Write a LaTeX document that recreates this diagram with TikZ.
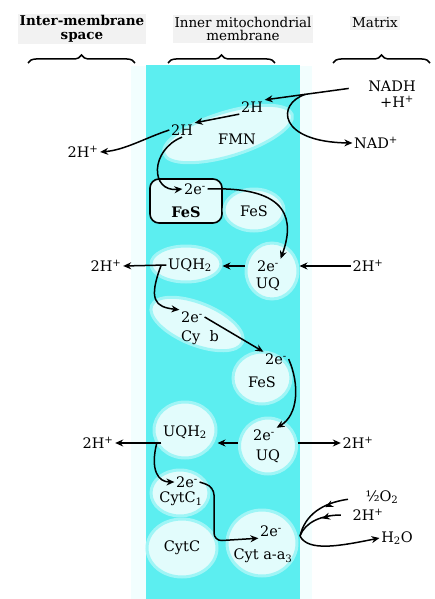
\documentclass[tikz,border=0pt]{standalone}
\usepackage{fontspec}
\setmainfont{DejaVu Serif}
\usetikzlibrary{positioning,calc,arrows.meta,shapes.geometric,decorations.pathreplacing,decorations.markings}
\definecolor{membc}{RGB}{92,238,240}
\definecolor{blobc}{RGB}{226,252,252}
\newcommand{\Hplus}{2H\textsuperscript{+}}
\newcommand{\elec}{2e\textsuperscript{-}}
\tikzset{
chain/.style={
    >={Stealth[length=8pt,width=7pt]},
    x=1pt,
    y=-1pt,
    line width=1.5pt,
    font=\fontsize{14.5}{15}\selectfont
},
blob/.style={
    ellipse,
    fill=blobc,
    draw=blobc!50!membc,
    line width=3pt
},
lbl/.style={
    inner sep=1pt
},
head/.style={
    align=center,
    fill=gray!10,
    inner sep=2pt,
    font=\fontsize{13.5}{13.5}\selectfont
},
headb/.style={
    head,
    font=\bfseries\fontsize{13.5}{13.5}\selectfont
},
flow/.style={
    ->
},
midflow/.style={
    postaction={decorate},
    decoration={markings, mark=at position 0.5 with {\arrow{>}}}
},
cbrace/.style={
    decorate,
    decoration={brace, amplitude=8pt},
    line width=1.5pt
}}

\begin{document}
\begin{tikzpicture}[chain]
\useasboundingbox (0,0) rectangle (435,599);
\fill[membc!8] (131,66) rectangle (312,599);
\fill[membc] (146,65) rectangle (300,599);

\node[headb] (ims) at (82,29) {Inter-membrane\\space};
\node[head]  (imm) at (243,29) {Inner mitochondrial\\membrane};
\node[head]  (mtx) at (375,23) {Matrix};
\draw[cbrace] (28,63) -- (135,63);
\draw[cbrace] (168,63) -- (275,63);
\draw[cbrace] (333,63) -- (430,63);

\node[blob, minimum width=134, minimum height=44, rotate=17] (fmnb) at (228,134) {};
\node[blob, rectangle, rounded corners=9pt, draw=black, line width=1.6pt, minimum width=72, minimum height=44] (fesbox) at (186,201) {};
\node[blob, minimum width=60, minimum height=42] (fesb1) at (254,210) {};
\node[blob, minimum width=70, minimum height=36] (uqhb1) at (186,264) {};
\node[blob, minimum width=52, minimum height=56] (uqb1) at (272,271) {};
\node[blob, minimum width=98, minimum height=42, rotate=-22] (cybb) at (197,324) {};
\node[blob, minimum width=58, minimum height=52] (fesb2) at (262,378) {};
\node[blob, minimum width=62, minimum height=56] (uqhb2) at (185,430) {};
\node[blob, minimum width=57, minimum height=56] (uqb2) at (268,446) {};
\node[blob, minimum width=58, minimum height=46] (cc1b) at (180,493) {};
\node[blob, minimum width=70, minimum height=58] (ccb) at (182,548) {};
\node[blob, minimum width=70, minimum height=66] (caab) at (262,543) {};

\node[lbl] (nadh) at (392,86) {NADH};
\node[lbl] (hplus) [below=1pt of nadh.south, anchor=north, xshift=5pt] {+H\textsuperscript{+}};
\node[lbl] (nad) at (376,143) {NAD\textsuperscript{+}};
\node[lbl] (h2a) at (252,107) {2H};
\node[lbl] (h2b) at (182,130) {2H};
\node[lbl] (fmn) at (237,139) {FMN};
\node[lbl] (hl1) at (83,152) {\Hplus};
\node[lbl] (ea) at (195,189) {\elec};
\node[lbl] (fesa) at (186,212) {\textbf{FeS}};
\node[lbl] (fesb) at (254,211) {FeS};
\node[lbl] (uqha) at (190,265) {UQH\textsubscript{2}};
\node[lbl] (hl2) at (106,266) {\Hplus};
\node[lbl] (eb) at (268,266) {\elec};
\node[lbl] (uqa) at (268,284) {UQ};
\node[lbl] (hr1) at (368,266) {\Hplus};
\node[lbl] (ec) at (192,317) {\elec};
\node[lbl] (cyb) at (200,338) {Cy\ \ b};
\node[lbl] (ed) at (276,359) {\elec};
\node[lbl] (fesc) at (262,382) {FeS};
\node[lbl] (uqhb) at (185,432) {UQH\textsubscript{2}};
\node[lbl] (hl3) at (98,443) {\Hplus};
\node[lbl] (ee) at (264,435) {\elec};
\node[lbl] (uqb) at (268,456) {UQ};
\node[lbl] (hr2) at (358,443) {\Hplus};
\node[lbl] (ef) at (187,482) {\elec};
\node[lbl] (cc1) at (181,499) {CytC\textsubscript{1}};
\node[lbl] (cc) at (182,548) {CytC};
\node[lbl] (eg) at (271,531) {\elec};
\node[lbl] (caa) at (263,556) {Cyt a-a\textsubscript{3}};
\node[lbl] (o2) at (382,497) {½O\textsubscript{2}};
\node[lbl] (hr3) at (368,515) {\Hplus};
\node[lbl] (h2o) at (397,538) {H\textsubscript{2}O};

\coordinate (jn) at ($(nadh.west)!0.6!(h2a.north east)$);
\coordinate (ja) at ($(uqha.west)!0.12!(hl2.east)$);
\coordinate (jb) at ($(uqhb.west |- hl3)!0.1!(hl3.east)$);
\coordinate (jo) at (300,536);

\draw[flow, shorten <=18pt] (nadh.west) -- (h2a.north east);
\draw[flow] (jn) .. controls (276,104) and (278,142) .. (nad.west);
\draw[flow] (h2a.south west) -- (h2b.north east);
\draw[flow] (h2b.west) .. controls (145,138) and (125,150) .. (hl1.east);
\draw[flow] (h2b.south) .. controls (150,150) and (150,192) .. (ea.west);
\draw[flow] (ea.east) .. controls (292,186) and (294,222) .. (eb.north east);
\path (uqb1.west |- hl2) edge[flow] (uqhb1.east |- hl2);
\path (uqha.west) edge[flow] (hl2.east);
\path (hr1.west) edge[flow] (uqb1.east |- hr1);
\draw[flow] (ja) .. controls (148,300) and (155,307) .. (ec.north west);
\path (ec.east) edge[flow] (ed.north west);
\draw[flow] (ed.east) .. controls (300,385) and (298,415) .. (ee.north east);
\path (uqb2.west |- hl3) edge[flow] (uqhb2.east |- hl3);
\path (uqhb.west |- hl3) edge[flow] (hl3.east);
\path (uqb2.east |- hr2) edge[flow] (hr2.west);
\draw[flow] (jb) .. controls (150,470) and (158,482) .. (ef.west);
\draw[flow, rounded corners=8pt] (ef.east) -- (214,487) -- (214,541) -- (eg.south west);
\draw[midflow, shorten <=16pt] (o2.west) .. controls (322,503) and (305,515) .. (jo);
\draw[midflow, shorten <=10pt] (hr3.west) .. controls (322,515) and (305,522) .. (jo);
\draw[flow] (jo) .. controls (308,552) and (340,546) .. (h2o.west);
\end{tikzpicture}
\end{document}
